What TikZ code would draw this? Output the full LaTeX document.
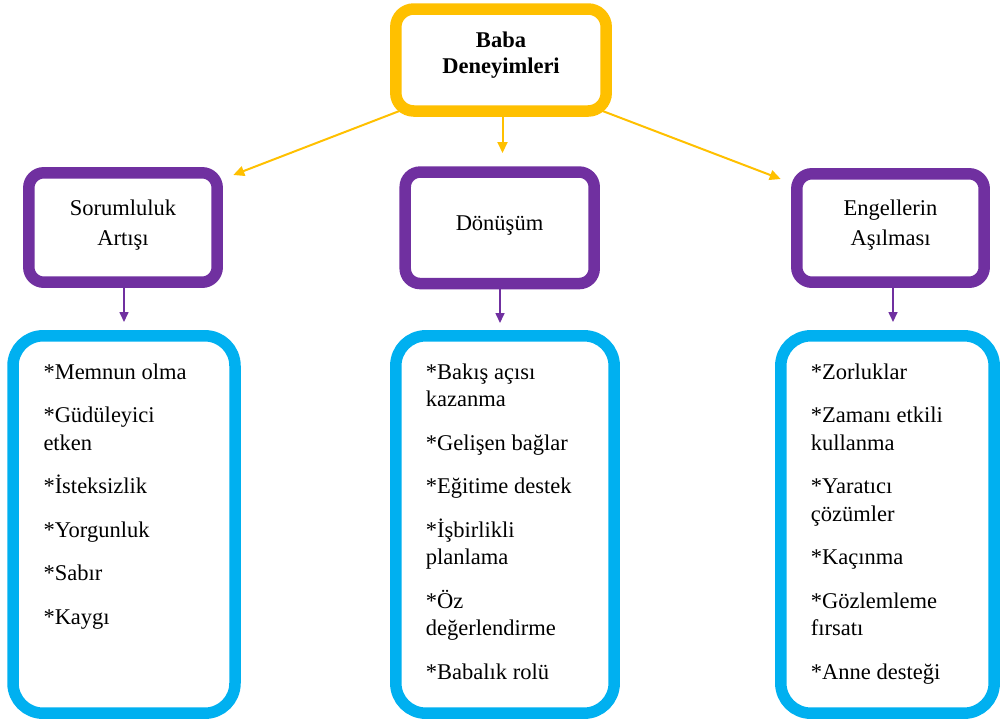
\documentclass[tikz,border=0pt]{standalone}
\usepackage{fontspec}
\setmainfont{LiberationSerif}[Extension=.ttf, UprightFont=*-Regular, BoldFont=*-Bold]
\usetikzlibrary{arrows.meta,calc}
\definecolor{cYel}{HTML}{FFC000}
\definecolor{cPur}{HTML}{7030A0}
\definecolor{cBlu}{HTML}{00B0F0}
\begin{document}
\begin{tikzpicture}[x=1pt,y=-1pt,
  topbox/.style={draw=cYel, line width=11.5pt, rounded corners=18pt, fill=white, inner sep=0pt},
  purbox/.style={draw=cPur, line width=11.5pt, rounded corners=15pt, fill=white, inner sep=0pt},
  blubox/.style={draw=cBlu, line width=11.5pt, rounded corners=30pt, fill=white, inner sep=0pt},
  toptext/.style={font=\bfseries\fontsize{22.5}{26}\selectfont, align=center, inner sep=0pt, anchor=north},
  ptext/.style={font=\fontsize{22.5}{30}\selectfont, align=center, inner sep=0pt, anchor=north},
  ltext/.style={font=\fontsize{22.5}{27.5}\selectfont, align=left, inner sep=0pt, anchor=north west},
  yarr/.style={draw=cYel, line width=2pt, -{Triangle[length=11pt,width=10pt]}},
  parr/.style={draw=cPur, line width=1.6pt, -{Triangle[length=10pt,width=9pt]}}
]
\useasboundingbox (0,0) rectangle (1001,724);

% boxes
\node[topbox, minimum width=210.4pt, minimum height=102pt] (top) at (501,60) {};
\node[purbox, minimum width=188.4pt, minimum height=109.4pt] (p1) at (123,227.5) {};
\node[purbox, minimum width=189pt, minimum height=111.5pt] (p2) at (499.7,227.8) {};
\node[purbox, minimum width=187.4pt, minimum height=108.4pt] (p3) at (890.5,228) {};
\node[blubox, minimum width=222pt, minimum height=377.4pt] (b1) at (124,524.5) {};
\node[blubox, minimum width=218.4pt, minimum height=377.4pt] (b2) at (505,524.5) {};
\node[blubox, minimum width=213.4pt, minimum height=377.4pt] (b3) at (887.5,524.5) {};

% texts
\node[toptext] (ttop) at (501,28.8) {\strut Baba\\Deneyimleri};
\node[ptext] (t1) at (123,194) {\strut Sorumluluk\\Artışı};
\node[ptext] (t2) at (499.5,209) {\strut Dönüşüm};
\node[ptext] (t3) at (890.5,194) {\strut Engellerin\\Aşılması};

\node[ltext] (l1) at (43.3,359.75) {\strut{*}Memnun olma\\[16pt]{*}Güdüleyici\\etken\\[16pt]{*}İsteksizlik\\[16pt]{*}Yorgunluk\\[16pt]{*}Sabır\\[16pt]{*}Kaygı};
\node[ltext] (l2) at (425.7,359.75) {\strut{*}Bakış açısı\\kazanma\\[16pt]{*}Gelişen bağlar\\[16pt]{*}Eğitime destek\\[16pt]{*}İşbirlikli\\planlama\\[16pt]{*}Öz\\değerlendirme\\[16pt]{*}Babalık rolü};
\node[ltext] (l3) at (810.7,359.75) {\strut{*}Zorluklar\\[16pt]{*}Zamanı etkili\\kullanma\\[16pt]{*}Yaratıcı\\çözümler\\[16pt]{*}Kaçınma\\[16pt]{*}Gözlemleme\\fırsatı\\[16pt]{*}Anne desteği};

% arrow end points
\coordinate (a1) at (233.3,175);
\coordinate (a2) at (502.5,153);
\coordinate (a3) at (780.7,179);
\coordinate (c1) at (124,322);
\coordinate (c2) at (500,323);
\coordinate (c3) at (893,322);

% connectors
\draw[yarr] ($(top.south west)+(10,-6)$) -- (a1);
\draw[yarr] (top.south -| a2) -- (a2);
\draw[yarr] ($(top.south east)+(-10,-6)$) -- (a3);
\draw[parr] (p1.south -| c1) -- (c1);
\draw[parr] (p2.south -| c2) -- (c2);
\draw[parr] (p3.south -| c3) -- (c3);
\end{tikzpicture}
\end{document}
